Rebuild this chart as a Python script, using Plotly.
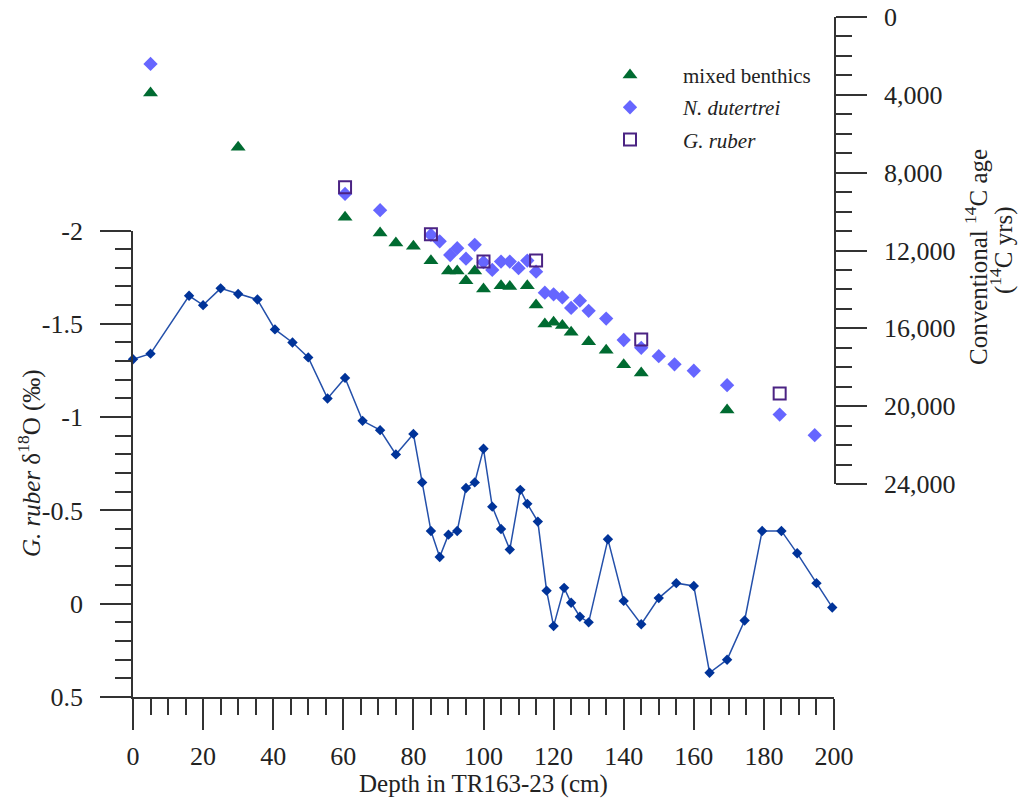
import plotly.graph_objects as go

# G. ruber d18O record along the core (depth in cm, per mil)
iso_depth = [0, 5, 16, 20, 25, 30, 35.5, 40.5, 45.5, 50, 55.5, 60.5, 65.5, 70.5, 75,
             80, 82.5, 85, 87.5, 90, 92.5, 95, 97.5, 100, 102.5, 105, 107.5, 110.5,
             112.5, 115.5, 118, 120, 123, 125, 127.5, 130, 135.5, 140, 145, 150, 155,
             160, 164.5, 169.5, 174.5, 179.5, 185, 189.5, 195, 199.5]
iso_d18o = [-1.31, -1.34, -1.65, -1.60, -1.69, -1.66, -1.63, -1.47, -1.40, -1.32, -1.10,
            -1.21, -0.98, -0.93, -0.80, -0.91, -0.65, -0.39, -0.25, -0.37, -0.39, -0.62,
            -0.65, -0.83, -0.52, -0.40, -0.29, -0.61, -0.535, -0.44, -0.07, 0.12, -0.085,
            -0.005, 0.07, 0.10, -0.345, -0.015, 0.11, -0.03, -0.11, -0.095, 0.37, 0.30,
            0.09, -0.39, -0.39, -0.27, -0.11, 0.02]

# Conventional 14C ages (yrs) by depth (cm)
benthic_depth = [5, 30, 60.5, 70.5, 75, 80, 85, 90, 92.5, 95, 97.5, 100, 105, 107.5,
                 112.5, 115, 117.5, 120, 122.5, 125, 130, 135, 140, 145, 169.5]
benthic_age = [3900, 6690, 10290, 11100, 11620, 11780, 12530, 13050, 13050, 13550, 13050,
               13980, 13810, 13850, 13810, 14800, 15780, 15690, 15860, 16200, 16690, 17120,
               17870, 18300, 20200]

dutertrei_depth = [5, 60.5, 70.5, 85, 87.5, 90.5, 92.5, 95, 97.5, 100, 102.5, 105, 107.5,
                   110, 112.5, 115, 117.5, 120, 122.5, 125, 127.5, 130, 135, 140, 145,
                   150, 154.5, 160, 169.5, 184.5, 194.5]
dutertrei_age = [2410, 9090, 9930, 11200, 11530, 12230, 11880, 12420, 11710, 12600, 13000,
                 12570, 12570, 12910, 12520, 13090, 14170, 14250, 14410, 14950, 14580, 15100,
                 15500, 16600, 17000, 17430, 17850, 18180, 18920, 20430, 21490]

ruber_depth = [60.5, 85, 100, 115, 145, 184.5]
ruber_age = [8750, 11160, 12570, 12520, 16570, 19350]

# Axis ticks
depth_ticks = list(range(0, 201, 20))
iso_ticks = [-2, -1.5, -1, -0.5, 0, 0.5]
iso_ticktext = ["-2", "-1.5", "-1", "-0.5", "0", "0.5"]
age_ticks = list(range(0, 24001, 4000))
age_ticktext = ["0", "4,000", "8,000", "12,000", "16,000", "20,000", "24,000"]

FONT = "Liberation Serif"
AXC = "#333333"
TXT = "#222222"

fig = go.Figure()

fig.add_trace(go.Scatter(
    x=iso_depth, y=iso_d18o, mode="lines+markers", xaxis="x", yaxis="y",
    line=dict(color="#2450AA", width=1.5),
    marker=dict(symbol="diamond", size=8, color="#003399"),
    showlegend=False, cliponaxis=False,
))

fig.add_trace(go.Scatter(
    x=benthic_depth, y=benthic_age, mode="markers", xaxis="x", yaxis="y2",
    name="mixed benthics", legendgroup="a",
    marker=dict(symbol="triangle-up", size=13, color="#006B31"),
    cliponaxis=False,
))
fig.add_trace(go.Scatter(
    x=dutertrei_depth, y=dutertrei_age, mode="markers", xaxis="x", yaxis="y2",
    name="<i>N. dutertrei</i>", legendgroup="b",
    marker=dict(symbol="diamond", size=11, color="#6666FF"),
    cliponaxis=False,
))
fig.add_trace(go.Scatter(
    x=ruber_depth, y=ruber_age, mode="markers", xaxis="x", yaxis="y2",
    name="<i>G. ruber</i>", legendgroup="c",
    marker=dict(symbol="square-open", size=12, color="#4B2383", line=dict(width=2)),
    cliponaxis=False,
))

W, H = 1018, 807
L, R, T, B = 133, 184, 17, 110
plot_h = H - T - B

def py(pix):
    return (H - B - pix) / plot_h

def px(pix):
    return (pix - L) / (W - L - R)

tickfont = dict(family=FONT, size=26, color=TXT)

fig.update_layout(
    width=W, height=H,
    margin=dict(l=L, r=R, t=T, b=B, autoexpand=False),
    paper_bgcolor="white", plot_bgcolor="rgba(0,0,0,0)",
    font=dict(family=FONT, color=TXT),
    xaxis=dict(
        range=[0, 200], anchor="y", showgrid=False, zeroline=False, automargin=False,
        showline=True, linecolor=AXC, linewidth=1.6,
        ticks="outside", ticklen=31, tickwidth=1.6, tickcolor=AXC,
        tickvals=depth_ticks, tickfont=tickfont, ticklabelstandoff=4,
        minor=dict(tickmode="linear", tick0=0, dtick=5, ticks="outside",
                   ticklen=16, tickwidth=1.6, tickcolor=AXC),
    ),
    yaxis=dict(
        range=[0.5, -2], domain=[0, py(230.5)], anchor="x", showgrid=False,
        zeroline=False, automargin=False, showline=True, linecolor=AXC, linewidth=1.6,
        ticks="outside", ticklen=31, tickwidth=1.6, tickcolor=AXC,
        tickvals=iso_ticks, ticktext=iso_ticktext, tickfont=tickfont,
        ticklabelstandoff=12,
        minor=dict(tickmode="linear", tick0=0, dtick=0.1, ticks="outside",
                   ticklen=16, tickwidth=1.6, tickcolor=AXC),
    ),
    yaxis2=dict(
        range=[24000, 0], domain=[py(484), 1], anchor="x", side="right",
        showgrid=False, zeroline=False, automargin=False, showline=True, linecolor=AXC,
        linewidth=1.6, ticks="outside", ticklen=31, tickwidth=1.6, tickcolor=AXC,
        tickvals=age_ticks, ticktext=age_ticktext, tickfont=tickfont,
        ticklabelstandoff=12,
        minor=dict(tickmode="linear", tick0=0, dtick=1000, ticks="outside",
                   ticklen=16, tickwidth=1.6, tickcolor=AXC),
    ),
    legend=dict(
        x=px(577), y=py(54.8), xanchor="left", yanchor="top",
        bgcolor="rgba(0,0,0,0)", borderwidth=0,
        font=dict(family=FONT, size=21, color=TXT),
        itemwidth=96, tracegroupgap=2, traceorder="grouped",
    ),
    annotations=[
        dict(text="Depth in TR163-23 (cm)", xref="paper", yref="paper",
             x=0.5, y=py(784), xanchor="center", yanchor="middle",
             showarrow=False, font=dict(family=FONT, size=25, color=TXT)),
        dict(text="<i>G. ruber</i> δ<sup>18</sup>O (‰)", xref="paper", yref="paper",
             x=px(29), y=py(463), xanchor="center", yanchor="middle",
             textangle=-90, showarrow=False,
             font=dict(family=FONT, size=25, color=TXT)),
        dict(text="Conventional <sup>14</sup>C age", xref="paper", yref="paper",
             x=px(976), y=py(257), xanchor="center", yanchor="middle",
             textangle=-90, showarrow=False,
             font=dict(family=FONT, size=25, color=TXT)),
        dict(text="(<sup>14</sup>C yrs)", xref="paper", yref="paper",
             x=px(1001), y=py(250), xanchor="center", yanchor="middle",
             textangle=-90, showarrow=False,
             font=dict(family=FONT, size=25, color=TXT)),
    ],
)

fig.write_html("out.html")
